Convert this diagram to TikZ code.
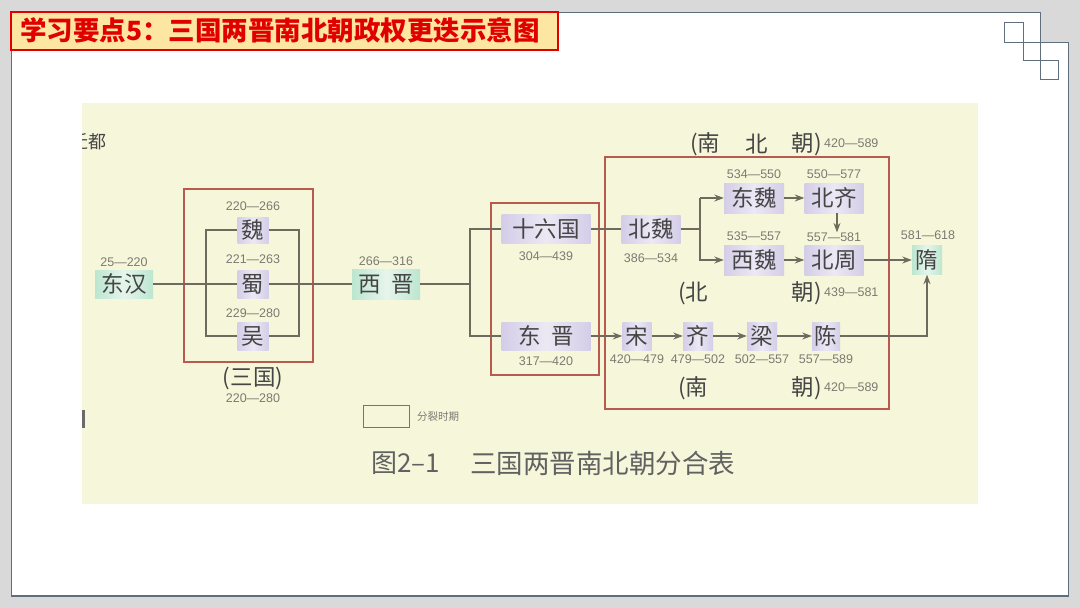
\documentclass[tikz,border=0pt]{standalone}
\usepackage{fontspec}
\setmainfont{Liberation Sans}
\newfontfamily\cjk{Noto Sans CJK SC}
\newfontfamily\numf{Liberation Sans}
\usetikzlibrary{arrows.meta}
\definecolor{slidebg}{HTML}{D9D9D9}
\definecolor{frameline}{HTML}{5F6F7E}
\definecolor{titlefill}{HTML}{FDE5A2}
\definecolor{titlered}{HTML}{E00000}
\definecolor{paper}{HTML}{F6F7DA}
\definecolor{redbox}{HTML}{B85A4E}
\definecolor{linec}{HTML}{6E6A5E}
\definecolor{purp}{HTML}{D4CDE8}
\definecolor{purpl}{HTML}{ECE8F4}
\definecolor{greenb}{HTML}{BCE6D0}
\definecolor{greenl}{HTML}{E6F5EC}
\definecolor{txt}{HTML}{454545}
\definecolor{numc}{HTML}{7A7A72}
\begin{document}
\begin{tikzpicture}[x=1pt,y=-1pt,
  conn/.style={draw=linec, line width=1.2pt},
  arr/.style={conn, -{Stealth[length=9.5pt,width=7pt]}},
  pbox/.style={inner sep=0pt, left color=purp, right color=purp, middle color=purpl, text=txt, font=\cjk\fontsize{22.5}{22.5}\selectfont},
  gbox/.style={pbox, left color=greenb, right color=greenb, middle color=greenl},
  num/.style={inner sep=0pt, text=numc, font=\numf\fontsize{12.5}{12.5}\selectfont},
  grp/.style={inner sep=0pt, text=txt, font=\cjk\fontsize{22.5}{22.5}\selectfont},
  redframe/.style={draw=redbox, line width=1.4pt},
]
\useasboundingbox (0,0) rectangle (1080,608);
\fill[slidebg] (0,0) rectangle (1080,608);
% slide
\path[fill=white] (11,12) -- (1040,12) -- (1040,42) -- (1068,42) -- (1068,596) -- (11,596) -- cycle;
\draw[frameline, line width=0.9pt] (11,12) -- (1040,12) -- (1040,42) -- (1068,42) -- (1068,596) -- (11,596) -- cycle;
\draw[frameline, line width=2pt] (11,596) -- (1068,596);
\draw[frameline, line width=0.9pt] (1004.7,22.7) rectangle (1023.3,42);
\draw[frameline, line width=0.9pt] (1023.3,42) rectangle (1040,60);
\draw[frameline, line width=0.9pt] (1040,60) rectangle (1058.3,79);
% title
\node[draw=titlered, line width=2pt, fill=titlefill, minimum width=547pt, minimum height=38pt, inner sep=0pt, anchor=north west] (title) at (10,11) {};
\node[anchor=west, inner sep=0pt, text=titlered, font=\cjk\bfseries\fontsize{26.5}{26.5}\selectfont] (titletext) at (20,30.5) {学习要点5：三国两晋南北朝政权更迭示意图};
% paper
\fill[paper] (82,103) rectangle (978,504);
\begin{scope}
\clip (82,120) rectangle (130,165);
\node[anchor=east, inner sep=0pt, text=txt, font=\cjk\fontsize{18}{18}\selectfont] (frag) at (107,142) {迁都};
\end{scope}
\fill[txt!80] (82,410) rectangle (85,428);
% red frames
\draw[redframe] (184,189) rectangle (313,362);
\draw[redframe] (491,203) rectangle (599,375);
\draw[redframe] (605,157) rectangle (889,409);
% nodes
\node[gbox, minimum width=58pt, minimum height=28pt] (dh) at (124,284) {东汉};
\node[pbox, minimum width=31pt, minimum height=26pt] (wei) at (253,230) {魏};
\node[pbox, minimum width=31pt, minimum height=28pt] (shu) at (253,284) {蜀};
\node[pbox, minimum width=31pt, minimum height=28pt] (wu) at (253,336) {吴};
\node[gbox, minimum width=68pt, minimum height=30pt] (xj) at (386,284) {西\hspace{0.45em}晋};
\node[pbox, minimum width=89pt, minimum height=29pt] (sl) at (546,229) {十六国};
\node[pbox, minimum width=89pt, minimum height=28pt] (dj) at (546,336) {东\hspace{0.45em}晋};
\node[pbox, minimum width=59pt, minimum height=28pt] (bw) at (651,229) {北魏};
\node[pbox, minimum width=60pt, minimum height=30pt] (dw) at (754,198) {东魏};
\node[pbox, minimum width=59pt, minimum height=30pt] (bq) at (834,198) {北齐};
\node[pbox, minimum width=60pt, minimum height=30pt] (xw) at (754,260) {西魏};
\node[pbox, minimum width=59pt, minimum height=30pt] (bz) at (834,260) {北周};
\node[gbox, minimum width=30pt, minimum height=29pt] (sui) at (927,260) {隋};
\node[pbox, minimum width=29pt, minimum height=28pt] (song) at (637,336) {宋};
\node[pbox, minimum width=30pt, minimum height=28pt] (qi) at (698,336) {齐};
\node[pbox, minimum width=30pt, minimum height=28pt] (liang) at (762,336) {梁};
\node[pbox, minimum width=28pt, minimum height=28pt] (chen) at (826,336) {陈};
% number labels
\node[num] (n1) at (124,262) {25—220};
\node[num] (n2) at (253,206) {220—266};
\node[num] (n3) at (253,259) {221—263};
\node[num] (n4) at (253,313) {229—280};
\node[grp] (sg) at (253,378) {(三国)};
\node[num] (n5) at (253,398) {220—280};
\node[num] (n6) at (386,261) {266—316};
\node[num] (n7) at (546,256) {304—439};
\node[num] (n8) at (546,361) {317—420};
\node[num] (n9) at (651,258) {386—534};
\node[num] (n10) at (754,174) {534—550};
\node[num] (n11) at (834,174) {550—577};
\node[num] (n12) at (754,236) {535—557};
\node[num] (n13) at (834,237) {557—581};
\node[num] (n14) at (928,235) {581—618};
\node[num] (n15) at (637,359) {420—479};
\node[num] (n16) at (698,359) {479—502};
\node[num] (n17) at (762,359) {502—557};
\node[num] (n18) at (826,359) {557—589};
% group labels
\node[grp, anchor=west] (g1) at (690,144) {(南};
\node[grp] (g2) at (757,144) {北};
\node[grp, anchor=east] (g3) at (822,144) {朝)};
\node[num, anchor=west] (g4) at (824,143) {420—589};
\node[grp, anchor=west] (g5) at (678,293) {(北};
\node[grp, anchor=east] (g6) at (822,293) {朝)};
\node[num, anchor=west] (g7) at (824,292) {439—581};
\node[grp, anchor=west] (g8) at (678,388) {(南};
\node[grp, anchor=east] (g9) at (822,388) {朝)};
\node[num, anchor=west] (g10) at (824,387) {420—589};
% bracket coordinates
\coordinate (L1) at (206,0);
\coordinate (R1) at (299,0);
\coordinate (B2) at (470,0);
\coordinate (B3) at (700,0);
% connectors
\draw[conn] (dh.east) -- (shu.west);
\draw[conn] (wei.west) -- (wei.west -| L1) -- (wu.west -| L1) -- (wu.west);
\draw[conn] (wei.east) -- (wei.east -| R1) -- (wu.east -| R1) -- (wu.east);
\draw[conn] (shu.east) -- (xj.west);
\draw[conn] (xj.east) -- (xj.east -| B2);
\draw[conn] (sl.west) -- (sl.west -| B2) -- (dj.west -| B2) -- (dj.west);
\draw[conn] (sl.east) -- (bw.west);
\draw[conn] (bw.east) -- (bw.east -| B3);
\draw[arr] (dw.west -| B3) -- (dw.west);
\draw[arr] (dw.west -| B3) -- (xw.west -| B3) -- (xw.west);
\draw[arr] (dw.east) -- (bq.west);
\draw[arr] (xw.east) -- (bz.west);
\draw[arr] ([xshift=3pt]bq.south) -- ([xshift=3pt]bq.south |- n13.north);
\draw[arr] (bz.east) -- (sui.west);
\draw[arr] (dj.east) -- (song.west);
\draw[arr] (song.east) -- (qi.west);
\draw[arr] (qi.east) -- (liang.west);
\draw[arr] (liang.east) -- (chen.west);
\draw[arr] (chen.east) -- (chen.east -| sui.south) -- (sui.south);
% legend
\draw[draw=redbox, line width=0.9pt] (363,405) rectangle (409,427);
\node[anchor=west, inner sep=0pt, text=numc, font=\cjk\fontsize{10.5}{10.5}\selectfont] (leg) at (417,417) {分裂时期};
% caption
\node[anchor=west, inner sep=0pt, text=txt!85, font=\cjk\fontsize{26}{26}\selectfont] (cap1) at (371,463) {图2–1};
\node[anchor=west, inner sep=0pt, text=txt!85, font=\cjk\fontsize{26.5}{26.5}\selectfont] (cap2) at (470,463) {三国两晋南北朝分合表};
\end{tikzpicture}
\end{document}
